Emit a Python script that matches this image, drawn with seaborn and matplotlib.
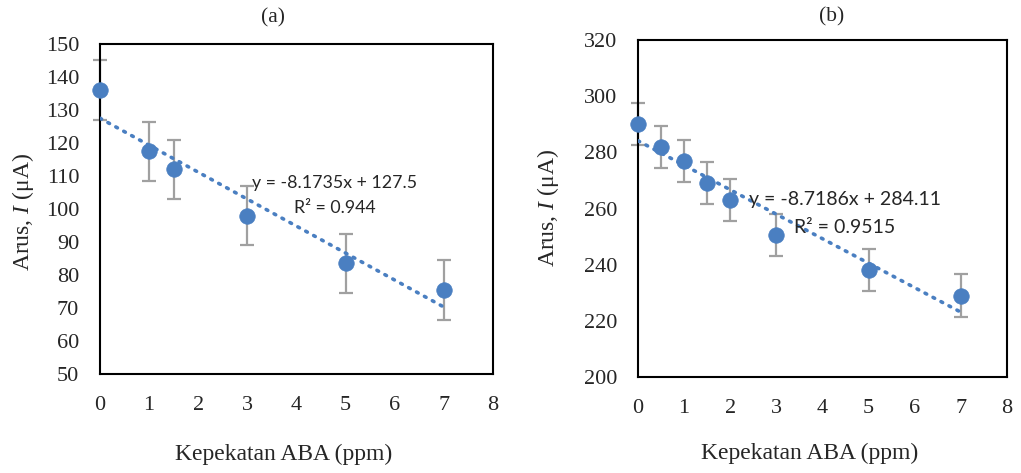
import matplotlib
matplotlib.use("Agg")
import matplotlib.pyplot as plt
import seaborn as sns
import numpy as np
import pandas as pd

# ---- data ----
conc_a = [0, 1, 1.5, 3, 5, 7]
current_a = [136, 117.5, 112, 98, 83.5, 75.5]
err_a = [9, 9, 9, 9, 9, 9]
slope_a, icpt_a = -8.1735, 127.5
eq_a = ["y = -8.1735x + 127.5", "R² = 0.944"]

conc_b = [0, 0.5, 1, 1.5, 2, 3, 5, 7]
current_b = [290, 282, 277, 269, 263, 250.5, 238, 229]
err_b = [7.5, 7.5, 7.5, 7.5, 7.5, 7.5, 7.5, 7.5]
slope_b, icpt_b = -8.7186, 284.11
eq_b = ["y = -8.7186x + 284.11", "R² = 0.9515"]

xticks = [0, 1, 2, 3, 4, 5, 6, 7, 8]
yticks_a = [50, 60, 70, 80, 90, 100, 110, 120, 130, 140, 150]
yticks_b = [200, 220, 240, 260, 280, 300, 320]

sns.set_style("white")
plt.rcParams["font.family"] = ["Liberation Serif", "DejaVu Serif"]
plt.rcParams["mathtext.fontset"] = "custom"
plt.rcParams["mathtext.it"] = "Liberation Serif:italic"
plt.rcParams["mathtext.rm"] = "Liberation Serif"

BLUE = "#4a7fc1"
GREY = "#a0a0a0"

fig = plt.figure(figsize=(10.21, 4.73), dpi=100)
ax_a = fig.add_axes([100/1021, 1-374/473, 393/1021, 330/473])
ax_b = fig.add_axes([638/1021, 1-377/473, 369/1021, 337/473])

def draw(ax, x, y, e, slope, icpt, yticks, eq, eqpos, eqsize, ylc, xlc):
    ax.errorbar(x, y, yerr=e, fmt="none", ecolor=GREY, elinewidth=1.6,
                capsize=5, capthick=1.6, zorder=2, clip_on=False)
    xf = np.array([x[0], x[-1]], dtype=float)
    trend = pd.DataFrame({"x": xf, "y": slope * xf + icpt})
    sns.lineplot(data=trend, x="x", y="y", ax=ax, color=BLUE, lw=2.6,
                 linestyle=(0, (0.5, 2.0)), dash_capstyle="round", zorder=3)
    df = pd.DataFrame({"x": x, "y": y})
    sns.scatterplot(data=df, x="x", y="y", ax=ax, color=BLUE, s=125,
                    edgecolor=BLUE, linewidth=0.5, zorder=4, clip_on=False)
    ax.set_xlim(0, 8)
    ax.set_ylim(yticks[0], yticks[-1])
    ax.set_xticks(xticks)
    ax.set_yticks(yticks)
    ax.tick_params(axis="both", length=0, labelsize=16)
    ax.tick_params(axis="x", pad=16)
    ax.tick_params(axis="y", pad=15)
    for s in ax.spines.values():
        s.set_visible(True)
        s.set_color("black")
        s.set_linewidth(1.5)
    ax.set_ylabel("Arus, $\\mathit{I}$ (μA)", fontsize=17)
    ax.yaxis.set_label_coords(*ylc)
    ax.yaxis.label.set_va("center")
    ax.set_xlabel("Kepekatan ABA (ppm)", fontsize=17)
    ax.xaxis.set_label_coords(*xlc)
    ax.xaxis.label.set_va("center")
    ax.text(eqpos[0], eqpos[1], eq[0], transform=fig.transFigure, ha="center",
            va="center", fontsize=eqsize, family=["Lato", "DejaVu Sans"])
    ax.text(eqpos[0], eqpos[2], eq[1], transform=fig.transFigure, ha="center",
            va="center", fontsize=eqsize, family=["Lato", "DejaVu Sans"])

draw(ax_a, conc_a, current_a, err_a, slope_a, icpt_a, yticks_a, eq_a,
     (335/1021, 1-183/473, 1-208/473), 12.8, (-0.195, 0.49), (0.467, -0.245))
draw(ax_b, conc_b, current_b, err_b, slope_b, icpt_b, yticks_b, eq_b,
     (845/1021, 1-199/473, 1-227/473), 14, (-0.245, 0.5), (0.466, -0.226))

fig.text(273/1021, 1-18/473, "(a)", ha="center", va="center", fontsize=15.5)
fig.text(832/1021, 1-17/473, "(b)", ha="center", va="center", fontsize=15.5)

fig.savefig("out.png", dpi=100, facecolor="white")
